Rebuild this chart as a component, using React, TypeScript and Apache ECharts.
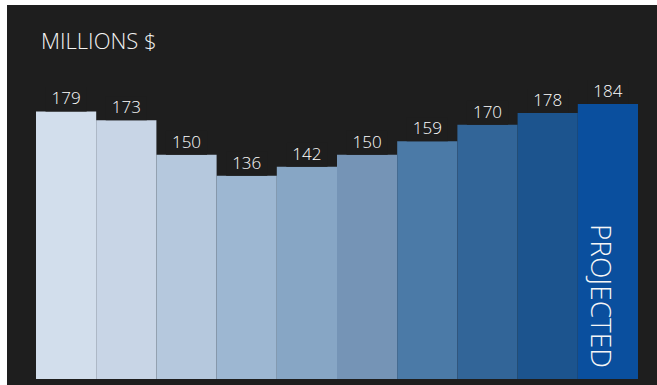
import React, { useEffect, useRef } from "react";
import * as echarts from "echarts";

const categories = ["Y1", "Y2", "Y3", "Y4", "Y5", "Y6", "Y7", "Y8", "Y9", "Y10"];
const values = [179, 173, 150, 136, 142, 150, 159, 170, 178, 184];
const barColors = [
  "#d2deec", "#c8d5e6", "#b5c8dd", "#9db7d2", "#87a6c5",
  "#7594b6", "#4b7aa7", "#326598", "#1c548e", "#0a4f9e",
];
const titleText = "MILLIONS $";
const projectedText = "PROJECTED";
const projectedIndex = 9;

export default function App() {
  const ref = useRef<HTMLDivElement>(null);
  useEffect(() => {
    document.body.style.margin = "0";
    const chart = echarts.init(ref.current!, null, { renderer: "svg" });
    const font = "'Open Sans', Lato, sans-serif";
    chart.setOption({
      animation: false,
      backgroundColor: "#1e1e1e",
      title: {
        text: titleText,
        left: 34,
        top: 24,
        padding: 0,
        textStyle: { color: "#f4f4f4", fontSize: 22, fontWeight: 300, fontFamily: font },
      },
      grid: { left: 29, right: 19, top: 75, bottom: 6 },
      xAxis: { type: "category", data: categories, show: false },
      yAxis: { type: "value", min: 0, max: 200, show: false, splitLine: { show: false } },
      series: [
        {
          type: "bar",
          barCategoryGap: "0%",
          data: values.map((v, i) => ({ value: v, itemStyle: { color: barColors[i] } })),
          label: {
            show: true,
            position: "top",
            distance: 0,
            color: "#ffffff",
            fontSize: 17,
            fontWeight: 300,
            fontFamily: font,
            backgroundColor: "#1e1e1e",
            padding: [2, 6, 5, 6],
          },
        },
        {
          type: "bar",
          barGap: "-100%",
          silent: true,
          z: 5,
          data: values.map((v, i) => (i === projectedIndex ? v : "-")),
          itemStyle: { color: "rgba(0,0,0,0)" },
          label: {
            show: true,
            formatter: projectedText,
            position: "insideBottom",
            distance: 11,
            rotate: -90,
            align: "right",
            verticalAlign: "middle",
            offset: [0, 6],
            color: "#f6f6f6",
            fontSize: 28,
            fontWeight: 300,
            fontFamily: font,
          },
        },
      ],
    });
    return () => chart.dispose();
  }, []);
  return (
    <div style={{ position: "fixed", left: 0, top: 0, width: 657, height: 385, background: "#ffffff" }}>
      <div ref={ref} style={{ position: "absolute", left: 7, top: 5, width: 650, height: 380 }} />
    </div>
  );
}
